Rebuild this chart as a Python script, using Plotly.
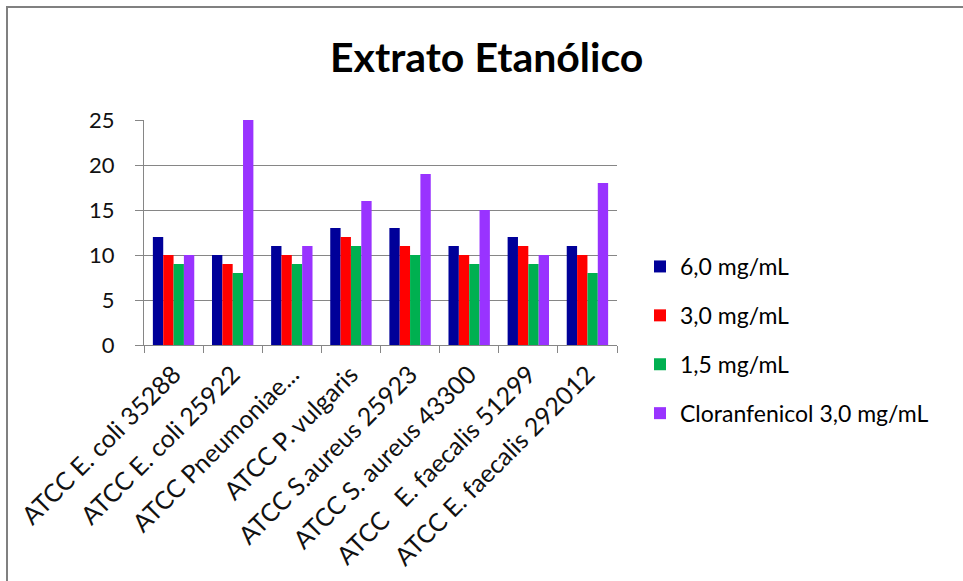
import plotly.graph_objects as go

# Strains tested (x categories)
categories = [
    "ATCC E. coli 35288",
    "ATCC E. coli 25922",
    "ATCC Pneumoniae...",
    "ATCC P. vulgaris",
    "ATCC S.aureus 25923",
    "ATCC S. aureus 43300",
    "ATCC\u00a0\u00a0\u00a0E. faecalis 51299",
    "ATCC E. faecalis 292012",
]

# Inhibition values for each concentration
conc_6_0 = [12, 10, 11, 13, 13, 11, 12, 11]
conc_3_0 = [10, 9, 10, 12, 11, 10, 11, 10]
conc_1_5 = [9, 8, 9, 11, 10, 9, 9, 8]
cloranfenicol = [10, 25, 11, 16, 19, 15, 10, 18]

series_names = ["6,0 mg/mL", "3,0 mg/mL", "1,5 mg/mL", "Cloranfenicol 3,0 mg/mL"]
series_values = [conc_6_0, conc_3_0, conc_1_5, cloranfenicol]
series_colors = ["#000099", "#FF0000", "#00B050", "#9933FF"]

y_ticks = [0, 5, 10, 15, 20, 25]

FONT = "Lato, Carlito, Calibri, sans-serif"

W, H = 963, 581
L, R, T, B = 144, 346, 120, 236
plot_w = W - L - R
plot_h = H - T - B

fig = go.Figure()
for i, (name, vals, col) in enumerate(zip(series_names, series_values, series_colors)):
    fig.add_trace(go.Bar(
        x=categories, y=vals, name=name,
        marker=dict(color=col, line=dict(width=0)),
        legendgroup=f"g{i}",
    ))

def px_x(p):
    return (p - L) / plot_w

def px_y(p):
    return (H - B - p) / plot_h

fig.update_layout(
    width=W, height=H,
    margin=dict(l=L, r=R, t=T, b=B, autoexpand=False),
    paper_bgcolor="white", plot_bgcolor="white",
    barmode="group", bargap=0.3, bargroupgap=0,
    font=dict(family=FONT, color="#000000"),
    showlegend=True,
    legend=dict(
        x=px_x(640), xanchor="left",
        y=px_y(340), yanchor="middle",
        font=dict(size=23, family=FONT, color="#000000"),
        traceorder="grouped", tracegroupgap=16,
        bgcolor="rgba(0,0,0,0)",
    ),
    xaxis=dict(
        type="category",
        automargin=False,
        tickangle=-45,
        tickfont=dict(size=25, family=FONT, color="#111111"),
        showline=True, linecolor="#868686", linewidth=1,
        ticks="outside", tickson="boundaries", ticklen=7, tickcolor="#868686",
        ticklabelstandoff=4,
        showgrid=False,
    ),
    yaxis=dict(
        range=[0, 25], tickvals=y_ticks,
        automargin=False,
        tickfont=dict(size=22, family=FONT, color="#111111"),
        showline=True, linecolor="#868686", linewidth=1,
        ticks="outside", ticklen=8, tickcolor="#868686",
        ticklabelstandoff=16,
        showgrid=True, gridcolor="#868686", gridwidth=1,
        zeroline=False,
    ),
    annotations=[dict(
        text="<b>Extrato Etanólico</b>",
        xref="paper", yref="paper",
        x=px_x(486), y=px_y(57), xanchor="center", yanchor="middle",
        showarrow=False,
        font=dict(size=41, family=FONT, color="#000000"),
    )],
    shapes=[dict(
        type="rect", xref="paper", yref="paper",
        x0=px_x(7), x1=px_x(1100), y0=px_y(700), y1=px_y(7),
        line=dict(color="#808080", width=2), fillcolor="rgba(0,0,0,0)",
        layer="below",
    )],
)

fig.write_html("out.html")
